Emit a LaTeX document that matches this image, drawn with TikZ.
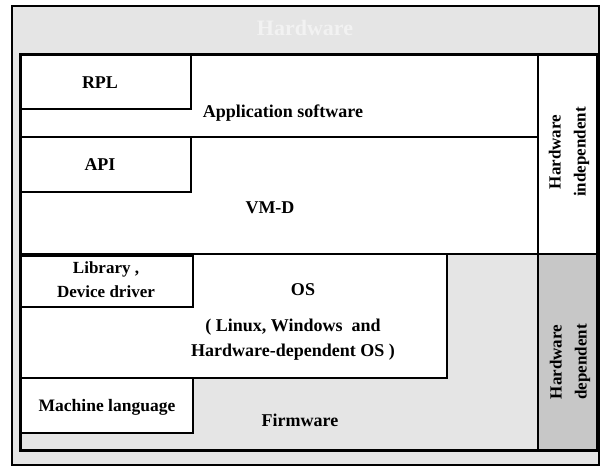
\documentclass[tikz,border=0pt]{standalone}
\usepackage{fontspec}
\setmainfont{Liberation Serif}
\begin{document}
\begin{tikzpicture}[x=1pt,y=-1pt,
  lbl/.style={font=\bfseries\fontsize{18}{20}\selectfont, align=center, inner sep=0pt},
  side/.style={font=\bfseries\fontsize{17}{25}\selectfont, align=center, inner sep=0pt, rotate=90},
  boxline/.style={line width=1.8pt},
  patfill/.style={fill=black!10},
  darkfill/.style={fill=black!22}]
\useasboundingbox (0,0) rectangle (603,472);
\fill[white] (0,0) rectangle (603,472);
% outer patterned area
\fill[patfill] (12,6) rectangle (599,465);
\draw[line width=1.4pt] (12,6) rectangle (599,465);
\node[font=\bfseries\fontsize{22}{24}\selectfont, text=black!5, inner sep=0pt] (title) at (305,28) {Hardware};
% white regions
\fill[white] (20,54) rectangle (597,254);
\fill[darkfill] (538,254) rectangle (597,450);
\fill[white] (20,254) rectangle (447,378);
\fill[white] (20,378) rectangle (193,433);
% layer lines
\draw[boxline] (20,137) -- (538,137);
\draw[boxline] (20,254) -- (597,254);
\draw[boxline] (538,54) -- (538,450);
\draw[boxline] (447,254) -- (447,378) -- (20,378);
% boxes
\draw[boxline] (20,54) rectangle (191,109);
\draw[boxline] (20,137) rectangle (191,192);
\draw[boxline] (20,256) rectangle (193,307);
\draw[boxline] (20,378) rectangle (193,433);
% inner frame
\draw[line width=3pt] (20,54) rectangle (597,450);
% labels
\node[lbl] (rpl) at (100,83) {RPL};
\node[lbl] (app) at (283,113) {Application software};
\node[lbl] (api) at (100,165) {API};
\node[lbl] (vmd) at (270,208) {VM-D};
\node[lbl, font=\bfseries\fontsize{17}{24}\selectfont] (lib) at (106,280) {Library ,\\Device driver};
\node[lbl] (os) at (303,290) {OS};
\node[lbl, font=\bfseries\fontsize{18}{25}\selectfont] (osd) at (293,340) {( Linux, Windows\ \ and\\Hardware-dependent OS )};
\node[lbl, font=\bfseries\fontsize{17.5}{19}\selectfont] (mach) at (107,407) {Machine language};
\node[lbl] (fw) at (300,420) {Firmware};
\node[side] (hwi) at (569,152) {Hardware\\independent};
\node[side] (hwd) at (570,362) {Hardware\\dependent};
\end{tikzpicture}
\end{document}
